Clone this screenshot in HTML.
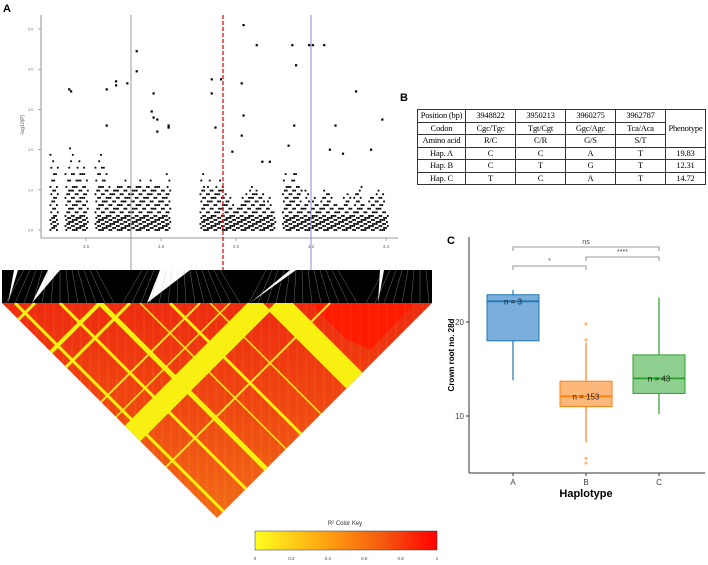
<!DOCTYPE html>
<html><head><meta charset="utf-8"><style>
html,body{margin:0;background:#fff;width:708px;height:565px;overflow:hidden;font-family:"Liberation Sans",sans-serif;position:relative}
svg{position:absolute;left:0;top:0}
table{position:absolute;left:417px;top:109px;width:288px;border-collapse:collapse;font-family:"Liberation Serif",serif;font-size:8.5px;table-layout:fixed}
td{border:1px solid #333;padding:0;text-align:center;height:11.5px;line-height:11.5px;white-space:nowrap;overflow:hidden;letter-spacing:-0.2px}
</style></head><body>
<svg id="fig" width="708" height="565" viewBox="0 0 708 565">
<defs>
<clipPath id="tri"><polygon points="2,303 432,303 217,518"/></clipPath>
<linearGradient id="ldg" x1="0" y1="0" x2="0" y2="1"><stop offset="0" stop-color="#ee2a10"/><stop offset="0.5" stop-color="#f04a12"/><stop offset="1" stop-color="#f27018"/></linearGradient>
<linearGradient id="key" x1="0" y1="0" x2="1" y2="0"><stop offset="0" stop-color="#ffff20"/><stop offset="0.4" stop-color="#ffa010"/><stop offset="0.7" stop-color="#f55a10"/><stop offset="1" stop-color="#ff0000"/></linearGradient>
</defs>
<text x="3" y="12" font-size="11" font-weight="bold">A</text>
<text x="400" y="101" font-size="11" font-weight="bold">B</text>
<text x="447" y="244" font-size="11" font-weight="bold">C</text>
<g id="man"></g>
<g id="ld"></g>
<g id="box"></g>
</svg>
<table>
<colgroup><col style="width:48px"><col style="width:50px"><col style="width:50px"><col style="width:50px"><col style="width:50px"><col style="width:40px"></colgroup>
<tr><td>Position (bp)</td><td>3948822</td><td>3950213</td><td>3960275</td><td>3962787</td><td rowspan="3">Phenotype</td></tr>
<tr><td>Codon</td><td>Cgc/Tgc</td><td>Tgt/Cgt</td><td>Ggc/Agc</td><td>Tca/Aca</td></tr>
<tr><td>Amino acid</td><td>R/C</td><td>C/R</td><td>G/S</td><td>S/T</td></tr>
<tr><td>Hap. A</td><td>C</td><td>C</td><td>A</td><td>T</td><td>19.83</td></tr>
<tr><td>Hap. B</td><td>C</td><td>T</td><td>G</td><td>T</td><td>12.31</td></tr>
<tr><td>Hap. C</td><td>T</td><td>C</td><td>A</td><td>T</td><td>14.72</td></tr>
</table>
<script>
const NS="http://www.w3.org/2000/svg";
function mk(p,t,a){const e=document.createElementNS(NS,t);for(const k in a)e.setAttribute(k,a[k]);p.appendChild(e);return e;}
// Manhattan data
const colPos=[3.51,3.52,3.55,3.56,3.57,3.58,3.59,3.60,3.63,3.64,3.65,3.66,3.67,3.68,3.69,3.70,3.71,3.72,3.73,3.74,3.75,3.76,3.77,3.78,3.79,3.80,3.81,3.82,3.91,3.92,3.93,3.94,3.95,3.96,3.97,3.98,3.99,4.00,4.01,4.02,4.03,4.04,4.05,4.06,4.07,4.08,4.09,4.10,4.13,4.14,4.15,4.16,4.17,4.18,4.19,4.20,4.21,4.22,4.23,4.24,4.25,4.26,4.27,4.28,4.29,4.30,4.31,4.32,4.33,4.34,4.35,4.36,4.37,4.38,4.39,4.40];
const colTop=[1.9,1.6,1.5,2.1,1.4,1.8,1.6,1.5,1.6,2.0,1.7,1.2,1.0,1.1,1.2,1.2,1.3,1.2,1.1,1.3,1.2,1.2,1.3,1.2,1.2,1.1,1.0,1.4,1.5,1.0,1.3,1.0,1.2,1.3,1.0,0.8,0.7,0.6,0.7,0.8,0.9,1.2,1.0,0.9,0.9,0.7,0.8,0.5,1.4,1.2,1.5,1.4,1.2,0.7,1.0,0.6,0.8,0.7,0.8,1.0,0.9,0.7,0.7,0.6,0.8,0.9,0.6,0.9,1.2,0.7,0.6,0.8,0.8,1.0,0.9,0.5];
const outX=[3.555,3.56,3.655,3.655,3.68,3.68,3.71,3.735,3.735,3.78,3.775,3.78,3.79,3.79,3.82,3.82,3.935,3.935,3.945,3.96,4.015,4.02,4.015,4.02,4.055,4.15,4.16,4.155,4.195,4.205,4.235,4.265,4.32,4.39,4.14,4.25,4.285,4.36,4.09,4.07,3.99];
const outY=[3.5,3.45,3.5,2.6,3.7,3.6,3.65,3.95,4.45,3.4,2.95,2.8,2.75,2.45,2.6,2.55,3.75,3.4,2.55,3.75,3.65,2.85,2.35,5.1,4.6,4.6,4.1,2.6,4.6,4.6,4.6,2.6,3.45,2.75,2.1,2.0,1.9,2.0,1.7,1.7,1.95];
const xTicks=[3.6,3.8,4.0,4.2,4.4], yTicks=[0,1,2,3,4,5];
const mx=v=>236+(v-4.0)*375, my=v=>230-v*40.2;
const man=document.getElementById('man');
let l=mk(man,'line',{x1:41,y1:15,x2:41,y2:238,stroke:'#777','stroke-width':0.8});

l=mk(man,'line',{x1:41,y1:238,x2:398,y2:238,stroke:'#777','stroke-width':0.8});

yTicks.forEach(v=>{mk(man,'line',{x1:38,y1:my(v),x2:41,y2:my(v),stroke:'#777','stroke-width':0.6});
 const t=mk(man,'text',{x:33,y:my(v)+1.5,'font-size':3.5,fill:'#666','text-anchor':'end'});t.textContent=v.toFixed(1);
 });
xTicks.forEach(v=>{mk(man,'line',{x1:mx(v),y1:238,x2:mx(v),y2:241,stroke:'#777','stroke-width':0.6});
 const t=mk(man,'text',{x:mx(v),y:248,'font-size':4.5,fill:'#666','text-anchor':'middle'});t.textContent=v.toFixed(1);
 });
let yt=mk(man,'text',{x:24,y:125,'font-size':5,fill:'#666','text-anchor':'middle',transform:'rotate(-90 24 125)'});yt.textContent='-log10(P)';

colPos.forEach((p,i)=>{let v=0,k=0;while(v<=colTop[i]){const off=((k*7+i*3)%5-2)*0.9;
 const d=mk(man,'rect',{x:mx(p)+off-0.9,y:my(v)-0.9,width:1.8,height:1.8,fill:'#000'});
 
 v+= v<0.35?0.05:(v<1.0?0.09:0.16); k++;}});
outX.forEach((p,i)=>{const d=mk(man,'rect',{x:mx(p)-1,y:my(outY[i])-1,width:2.2,height:2.2,fill:'#000'});
 });
[[131,'#999'],[311,'#8888cc']].forEach(a=>{const v=mk(man,'line',{x1:a[0],y1:15,x2:a[0],y2:272,stroke:a[1],'stroke-width':1});
 });
l=mk(man,'line',{x1:223,y1:15,x2:223,y2:290,stroke:'#e02020','stroke-width':1.4,'stroke-dasharray':'4,2'});

// LD
const ld=document.getElementById('ld');
mk(ld,'rect',{x:2,y:270,width:430,height:33,fill:'#000'});
[[8,303,18,270,14,270],[32,303,60,270,48,270],[147,303,190,270,160,270],[378,303,380,270,384,270],[250,303,290,270,296,270]].forEach(w=>mk(ld,'polygon',{points:w.join(' '),fill:'#fff'}));
for(let x=6;x<430;x+=9){mk(ld,'line',{x1:x,y1:303,x2:x+((x*13)%40)-20,y2:270,stroke:'#bbb','stroke-width':0.3});}
const g=mk(ld,'g',{'clip-path':'url(#tri)'});
mk(g,'rect',{x:0,y:300,width:440,height:220,fill:'url(#ldg)'});
mk(g,'polygon',{points:'310,303 415,303 370,350 345,338',fill:'#ff1a00'});
for(let x=0;x<440;x+=3){mk(g,'line',{x1:x,y1:303,x2:x,y2:520,stroke:(x%9==0)?'#f8a020':'#e03010','stroke-width':0.5,'stroke-opacity':0.35});}
const dl=[[263,22],[100,4],[35,3],[130,3],[200,2],[230,1.5],[330,2]], dr=[[275,20],[100,5],[15,3],[60,3],[170,3],[290,4],[210,1.5],[140,1.5]];
dl.forEach(a=>mk(g,'line',{x1:a[0],y1:303,x2:a[0]-300,y2:603,stroke:'#f8f010','stroke-width':a[1]}));
dr.forEach(a=>mk(g,'line',{x1:a[0],y1:303,x2:a[0]+300,y2:603,stroke:'#f8f010','stroke-width':a[1]}));
mk(ld,'rect',{x:255,y:531,width:182,height:19,fill:'url(#key)',stroke:'#333','stroke-width':0.5});
let kt=mk(ld,'text',{x:345,y:525,'font-size':6,'text-anchor':'middle',fill:'#333'});kt.textContent='R² Color Key';

['0','0.2','0.4','0.6','0.8','1'].forEach((s,i)=>{const t=mk(ld,'text',{x:255+i*36.4,y:560,'font-size':4.5,'text-anchor':'middle',fill:'#444'});t.textContent=s;
 });
// Boxplot
const cats=['A','B','C'], q1=[18,11,12.4], med=[22.2,12.1,14], q3=[22.9,13.7,16.5], wLo=[13.8,7.2,10.2], wHi=[23.4,17.8,22.6], ns=[3,153,43];
const outCat=[1,1,1,1], outVal=[19.8,18.1,5.5,5.0];
const cols=['#1f77b4','#ff7f0e','#2ca02c'], fills=['#7aaedc','#fcb77a','#8fcf8f'];
const bx=i=>513+i*73, by=v=>416-(v-10)*9.4;
const box=document.getElementById('box');
mk(box,'line',{x1:469,y1:237,x2:469,y2:473,stroke:'#333','stroke-width':1});
mk(box,'line',{x1:469,y1:473,x2:705,y2:473,stroke:'#333','stroke-width':1});
[10,20].forEach(v=>{mk(box,'line',{x1:466,y1:by(v),x2:469,y2:by(v),stroke:'#333'});
 const t=mk(box,'text',{x:464,y:by(v)+3,'font-size':8,'text-anchor':'end',fill:'#444'});t.textContent=v;
 });
let t=mk(box,'text',{x:454,y:355,'font-size':8,'font-weight':'bold','text-anchor':'middle',transform:'rotate(-90 454 355)'});t.textContent='Crown root no. 28d';

t=mk(box,'text',{x:586,y:497,'font-size':11,'font-weight':'bold','text-anchor':'middle'});t.textContent='Haplotype';

cats.forEach((c,i)=>{const x=bx(i);
 mk(box,'line',{x1:x,y1:473,x2:x,y2:476,stroke:'#333'});
 let tt=mk(box,'text',{x:x,y:485,'font-size':8,'text-anchor':'middle',fill:'#444'});tt.textContent=c;
 
 mk(box,'line',{x1:x,y1:by(wLo[i]),x2:x,y2:by(wHi[i]),stroke:cols[i],'stroke-width':1.2});
 const r=mk(box,'rect',{x:x-26,y:by(q3[i]),width:52,height:by(q1[i])-by(q3[i]),fill:fills[i],stroke:cols[i],'stroke-width':1});
 
 mk(box,'line',{x1:x-26,y1:by(med[i]),x2:x+26,y2:by(med[i]),stroke:cols[i],'stroke-width':1.8});
 tt=mk(box,'text',{x:x,y:by(med[i])+3,'font-size':8,'text-anchor':'middle',fill:'#222'});tt.textContent='n = '+ns[i];
 });
outCat.forEach((c,i)=>{const o=mk(box,'circle',{cx:bx(c),cy:by(outVal[i]),r:1.6,fill:'#fcb77a'});
 });
[[0,2,247,'ns',242],[1,2,257,'****',252],[0,1,266,'*',261]].forEach(b=>{
 mk(box,'path',{d:`M${bx(b[0])},${b[2]+4}V${b[2]}H${bx(b[1])}V${b[2]+4}`,fill:'none',stroke:'#777','stroke-width':0.8});
 const s=mk(box,'text',{x:(bx(b[0])+bx(b[1]))/2,y:b[4]+2,'font-size':7,'text-anchor':'middle',fill:'#444'});s.textContent=b[3];
 });
</script>
</body></html>
